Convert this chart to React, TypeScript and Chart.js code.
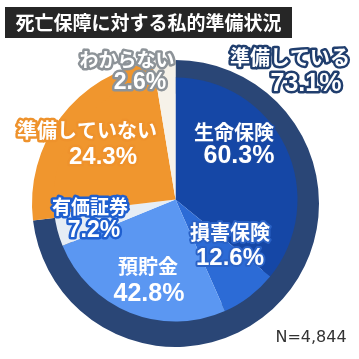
import { useEffect, useRef } from "react";
import { Chart, ArcElement, DoughnutController } from "chart.js";

Chart.register(ArcElement, DoughnutController);

const TITLE = "死亡保障に対する私的準備状況";
const statusLabels = ["準備している", "準備していない", "わからない"];
const statusValues = [73.1, 24.3, 2.6];
const breakdownLabels = ["生命保険", "損害保険", "預貯金", "有価証券"];
const breakdownValues = [60.3, 12.6, 42.8, 7.2];
const sampleNote = "N=4,844";

const statusColors = ["#2a4676", "#f0962e", "#f6f2e9"];
const breakdownColors = ["#1547a6", "#2c6bd6", "#5b97f2", "#e6edf5"];

const JP = '"Noto Sans CJK JP", "Noto Sans", sans-serif';
const NUM = '"Liberation Sans", Arial, sans-serif';

type LabelSpec = {
  text: string;
  num: string;
  dx: number;
  dy: number;
  ndx: number;
  ndy: number;
  size: number;
  nsize: number;
  stroke: string | null;
  lw: number;
};

const pct = (v: number) => v.toFixed(1) + "%";

const labelSpecs: LabelSpec[] = [
  { text: statusLabels[0], num: pct(statusValues[0]), dx: 114.5, dy: -146, ndx: 130.5, ndy: -119, size: 20, nsize: 25, stroke: "#203e6e", lw: 5 },
  { text: statusLabels[2], num: pct(statusValues[2]), dx: -48.5, dy: -144, ndx: -35.5, ndy: -121, size: 19, nsize: 23, stroke: "#8d9398", lw: 5 },
  { text: statusLabels[1], num: pct(statusValues[1]), dx: -88.5, dy: -73, ndx: -72.5, ndy: -46, size: 20, nsize: 24, stroke: "#ee922c", lw: 5 },
  { text: breakdownLabels[0], num: pct(breakdownValues[0]), dx: 58.5, dy: -71, ndx: 63.5, ndy: -47, size: 20, nsize: 25, stroke: "#1a4aa5", lw: 3 },
  { text: breakdownLabels[1], num: pct(breakdownValues[1]), dx: 54.5, dy: 29, ndx: 54.5, ndy: 55, size: 20, nsize: 24, stroke: "#2a62c6", lw: 4 },
  { text: breakdownLabels[2], num: pct(breakdownValues[2]), dx: -27.5, dy: 63, ndx: -26.5, ndy: 91, size: 20, nsize: 25, stroke: null, lw: 0 },
  { text: breakdownLabels[3], num: pct(breakdownValues[3]), dx: -85.5, dy: 3, ndx: -81.5, ndy: 27, size: 19, nsize: 23, stroke: "#1f5fcf", lw: 5 },
];

const breakdownTotal = breakdownValues.reduce((a, b) => a + b, 0);
const innerValues = [
  ...breakdownValues.map((v) => (v / breakdownTotal) * statusValues[0]),
  statusValues[1],
  statusValues[2],
];
const innerColors = [...breakdownColors, statusColors[1], statusColors[2]];

const INNER_RATIO = 122 / 143.5;
const INNER_SHIFT = 4;

const innerShiftPlugin = {
  id: "innerShift",
  beforeDatasetDraw(chart: any, args: any) {
    if (args.index !== 1) return;
    const outer = chart.getDatasetMeta(0).data[0];
    const inner = chart.getDatasetMeta(1).data[0];
    if (!outer || !inner) return;
    const k = (INNER_RATIO * outer.outerRadius) / inner.outerRadius;
    const ctx = chart.ctx;
    ctx.save();
    ctx.translate(outer.x, outer.y - INNER_SHIFT);
    ctx.scale(k, k);
    ctx.translate(-outer.x, -outer.y);
  },
  afterDatasetDraw(chart: any, args: any) {
    if (args.index !== 1) return;
    chart.ctx.restore();
  },
};

function drawOutlined(ctx: CanvasRenderingContext2D, text: string, x: number, y: number, font: string, stroke: string | null, lw: number, fill: string) {
  ctx.font = font;
  ctx.textAlign = "center";
  ctx.textBaseline = "middle";
  if (stroke && lw > 0) {
    ctx.lineJoin = "round";
    ctx.lineWidth = lw;
    ctx.strokeStyle = stroke;
    ctx.strokeText(text, x, y);
  }
  ctx.fillStyle = fill;
  ctx.fillText(text, x, y);
}

const overlayPlugin = {
  id: "overlay",
  afterDraw(chart: any) {
    const ctx: CanvasRenderingContext2D = chart.ctx;
    const arc = chart.getDatasetMeta(0).data[0];
    if (!arc) return;
    const cx = arc.x;
    const cy = arc.y;
    ctx.save();
    // title
    ctx.fillStyle = "#262626";
    ctx.fillRect(5, 7, 287, 31);
    drawOutlined(ctx, TITLE, 148.5, 23, `bold 19px ${JP}`, null, 0, "#ffffff");
    // labels
    for (const s of labelSpecs) {
      drawOutlined(ctx, s.text, cx + s.dx, cy + s.dy, `bold ${s.size}px ${JP}`, s.stroke, s.lw, "#ffffff");
      drawOutlined(ctx, s.num, cx + s.ndx, cy + s.ndy, `bold ${s.nsize}px ${NUM}`, s.stroke, s.lw, "#ffffff");
    }
    // sample size
    drawOutlined(ctx, sampleNote, 311, 338, `16px "DejaVu Sans", sans-serif`, null, 0, "#333333");
    ctx.restore();
  },
};

export default function App() {
  const ref = useRef<HTMLCanvasElement | null>(null);
  useEffect(() => {
    if (!ref.current) return;
    const chart = new Chart(ref.current, {
      type: "doughnut",
      data: {
        labels: [...breakdownLabels, statusLabels[1], statusLabels[2]],
        datasets: [
          {
            data: statusValues,
            backgroundColor: statusColors,
            borderWidth: 0,
            weight: 33.5,
            order: 1,
            clip: false,
          } as any,
          {
            data: innerValues,
            backgroundColor: innerColors,
            borderWidth: 0,
            weight: 110,
            order: 0,
            clip: false,
          } as any,
        ],
      },
      options: {
        responsive: false,
        animation: false,
        devicePixelRatio: 1,
        cutout: 0,
        layout: { padding: { left: 32, right: 40, top: 60, bottom: 12 } },
        plugins: { legend: { display: false }, tooltip: { enabled: false } } as any,
        events: [],
      },
      plugins: [innerShiftPlugin, overlayPlugin],
    });
    return () => chart.destroy();
  }, []);
  return (
    <div style={{ position: "fixed", left: 0, top: 0, width: 359, height: 359, background: "#ffffff" }}>
      <canvas ref={ref} width={359} height={359} style={{ display: "block", width: 359, height: 359 }} />
    </div>
  );
}
